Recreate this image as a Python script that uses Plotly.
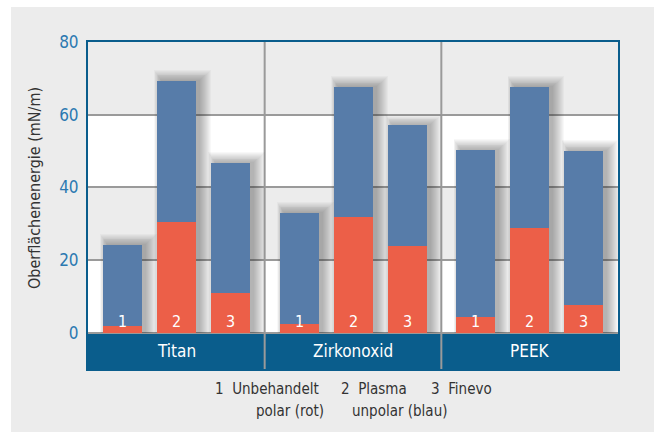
import plotly.graph_objects as go

materials = ["Titan", "Zirkonoxid", "PEEK"]
treatments = ["1", "2", "3"]
# total surface energy per material (rows) and treatment (cols)
total = [[24.2, 69.3, 46.7],
         [33.0, 67.6, 57.2],
         [50.3, 67.6, 50.0]]
# polar part (red)
polar = [[1.9, 30.6, 11.0],
         [2.6, 31.9, 24.0],
         [4.4, 28.9, 7.7]]
y_ticks = [0, 20, 40, 60, 80]

RED = "#ec5f48"
BLUE = "#577ca9"
DARK = "#0a5d8c"
TICKBLUE = "#2b79b1"
GRID = "#9a9a9a"
PANEL = "#ececec"
FONT = "DejaVu Sans Condensed, Liberation Sans Narrow, Roboto, sans-serif"

PX = 530 / 3.0          # pixels per group
UPX = 327 / 89.9        # pixels per y unit
offset = 54 / PX        # bar spacing in data units
bw = 39 / PX            # bar width in data units
YMIN = -9.9

xs, reds, blues, tots, labels = [], [], [], [], []
for g, m in enumerate(materials):
    for i, t in enumerate(treatments):
        xs.append(g + (i - 1) * offset)
        reds.append(polar[g][i])
        blues.append(total[g][i] - polar[g][i])
        tots.append(total[g][i])
        labels.append(t)

fig = go.Figure()

# soft shadows (layered translucent bars, skewed to the upper right)
for k in range(12):
    left = 4 - 0.6 * k      # px relative to bar left edge
    right = 4 + 1.0 * k     # px relative to bar right edge
    w = bw + (right - left) / PX
    shift = (left + right) / 2 / PX
    fig.add_trace(go.Bar(
        x=[x + shift for x in xs],
        y=[t + (1 + 0.9 * k) / UPX for t in tots],
        width=w,
        marker=dict(color="rgba(40,40,40,0.032)", line=dict(width=0)),
        hoverinfo="skip", showlegend=False))

fig.add_trace(go.Bar(x=xs, y=reds, width=bw, marker=dict(color=RED, line=dict(width=0)),
                     name="polar", showlegend=False))
fig.add_trace(go.Bar(x=xs, y=blues, width=bw, base=reds, marker=dict(color=BLUE, line=dict(width=0)),
                     name="unpolar", showlegend=False))

shapes = []
# background bands
for lo in range(0, 80, 20):
    shapes.append(dict(type="rect", xref="x", yref="y", x0=-0.5, x1=2.5, y0=lo, y1=lo + 20,
                       fillcolor="white" if (lo // 20) % 2 == 0 else PANEL,
                       line=dict(width=0), layer="below"))
# category band
shapes.append(dict(type="rect", xref="x", yref="y", x0=-0.5, x1=2.5, y0=YMIN, y1=0,
                   fillcolor=DARK, line=dict(width=0), layer="below"))
# group separators
for s in [0.5, 1.5]:
    shapes.append(dict(type="line", xref="x", yref="y", x0=s, x1=s, y0=YMIN, y1=80,
                       line=dict(color=GRID, width=2), layer="between"))
# outer gray panel
shapes.append(dict(type="rect", xref="paper", yref="paper",
                   x0=-77 / 530, x1=1 + 40 / 530, y0=-70 / 327, y1=1 + 35 / 327,
                   fillcolor=PANEL, line=dict(width=0), layer="below"))

def px_x(px):
    return (px - 88) / 530
def px_y(py):
    return (369 - py) / 327

annotations = []
for x, l in zip(xs, labels):
    annotations.append(dict(x=x, y=0, xref="x", yref="y", text=l, showarrow=False,
                            yanchor="bottom", yshift=0,
                            font=dict(family=FONT, size=16, color="white")))
for g, m in enumerate(materials):
    annotations.append(dict(x=g, y=YMIN / 2, xref="x", yref="y", text=m, showarrow=False,
                            xanchor="center", yanchor="middle",
                            font=dict(family=FONT, size=17, color="white")))

annotations.append(dict(x=px_x(35), y=px_y(188), xref="paper", yref="paper",
                        text="Oberflächenenergie (mN/m)", textangle=-90, showarrow=False,
                        xanchor="center", yanchor="middle",
                        font=dict(family=FONT, size=16, color="#333333")))

leg_font = dict(family=FONT, size=15, color="#333333")
annotations += [
    dict(x=px_x(213), y=px_y(389), xref="paper", yref="paper", text="1  Unbehandelt",
         xanchor="left", yanchor="middle", showarrow=False, font=leg_font),
    dict(x=px_x(326), y=px_y(411), xref="paper", yref="paper", text="polar (rot)",
         xanchor="right", yanchor="middle", showarrow=False, font=leg_font),
    dict(x=px_x(339), y=px_y(389), xref="paper", yref="paper", text="2  Plasma",
         xanchor="left", yanchor="middle", showarrow=False, font=leg_font),
    dict(x=px_x(350), y=px_y(411), xref="paper", yref="paper", text="unpolar (blau)",
         xanchor="left", yanchor="middle", showarrow=False, font=leg_font),
    dict(x=px_x(429), y=px_y(389), xref="paper", yref="paper", text="3  Finevo",
         xanchor="left", yanchor="middle", showarrow=False, font=leg_font),
]

fig.update_layout(
    width=654, height=432,
    margin=dict(l=88, r=36, t=42, b=63),
    paper_bgcolor="white", plot_bgcolor=PANEL,
    barmode="overlay", bargap=0,
    shapes=shapes, annotations=annotations,
    font=dict(family=FONT),
    xaxis=dict(range=[-0.5, 2.5], showticklabels=False, showgrid=False, zeroline=False,
               showline=True, linecolor=DARK, linewidth=2, mirror=True, fixedrange=True),
    yaxis=dict(range=[YMIN, 80], tickvals=y_ticks, ticktext=[str(v) for v in y_ticks],
               tickfont=dict(family=FONT, size=17, color=TICKBLUE), ticks="",
               showgrid=True, gridcolor=GRID, gridwidth=2, zeroline=False,
               showline=True, linecolor=DARK, linewidth=2, mirror=True, ticklabelstandoff=4),
)
fig.write_html("out.html", config={"displayModeBar": False},
               post_script="document.body.style.margin='0px';")
